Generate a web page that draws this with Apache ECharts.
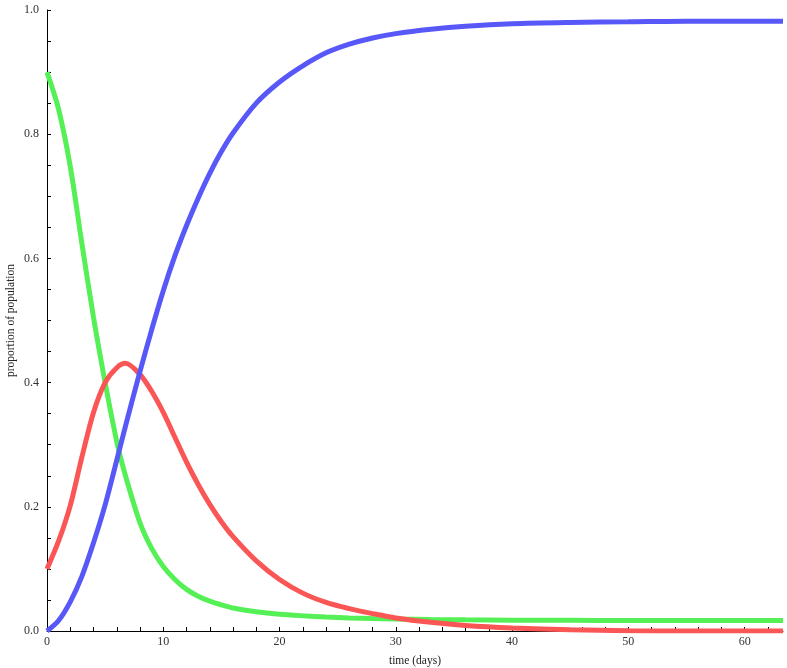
<!DOCTYPE html>
<html>
<head>
<meta charset="utf-8">
<script src="https://cdn.jsdelivr.net/npm/echarts@6/dist/echarts.min.js"></script>
<style>
html,body{margin:0;padding:0;background:#fff;}
#chart{width:787px;height:668px;}
</style>
</head>
<body>
<div id="chart"></div>
<script>
// time (days)
var days = [0,1,2,3,4,5,6,6.75,8,9,10,11,12,13,14,15,16,18,20,22,24,26,28,30,33,36,40,45,50,55,60,63.3];
// susceptible (green)
var susceptible = [0.900,0.840,0.748,0.624,0.505,0.400,0.305,0.250,0.174,0.133,0.104,0.083,0.067,0.056,0.048,0.042,0.037,0.031,0.027,0.0245,0.0225,0.021,0.020,0.0193,0.0185,0.018,0.0175,0.0172,0.017,0.017,0.017,0.017];
// infected (red)
var infected = [0.100,0.145,0.202,0.280,0.352,0.400,0.424,0.431,0.413,0.386,0.352,0.312,0.272,0.236,0.204,0.176,0.152,0.113,0.083,0.061,0.046,0.036,0.028,0.021,0.014,0.009,0.005,0.002,0.0005,0.0,0.0,0.0];
// recovered (blue)
var recovered = [0.000,0.017,0.047,0.088,0.142,0.203,0.275,0.330,0.418,0.485,0.548,0.604,0.653,0.697,0.737,0.772,0.802,0.850,0.884,0.910,0.931,0.945,0.955,0.962,0.969,0.974,0.978,0.980,0.981,0.982,0.982,0.982];

var xTickValues = [0,2,4,6,8,10,12,14,16,18,20,22,24,26,28,30,32,34,36,38,40,42,44,46,48,50,52,54,56,58,60,62];
var xLabelValues = [0,10,20,30,40,50,60];
var yTickValues = [0,0.05,0.1,0.15,0.2,0.25,0.3,0.35,0.4,0.45,0.5,0.55,0.6,0.65,0.7,0.75,0.8,0.85,0.9,0.95,1.0];
var yLabelValues = [0,0.2,0.4,0.6,0.8,1.0];

function pairs(ys){ return days.map(function(t,i){ return [t, ys[i]]; }); }

var font = '"Liberation Serif", "DejaVu Serif", serif';
var chart = echarts.init(document.getElementById('chart'), null, {renderer:'canvas'});
chart.setOption({
  animation:false,
  backgroundColor:'#ffffff',
  grid:{left:47, right:4, top:10, bottom:37, outerBoundsMode:'none', containLabel:false},
  xAxis:{
    type:'value', min:0, max:63.3,
    name:'time (days)', nameLocation:'middle', nameGap:24, nameMoveOverlap:false,
    nameTextStyle:{fontFamily:font, fontSize:11.5, color:'#222'},
    axisLine:{show:true, onZero:false, lineStyle:{color:'#000', width:1}},
    axisTick:{show:true, inside:true, length:4, customValues:xTickValues, lineStyle:{color:'#000', width:1}},
    axisLabel:{show:true, customValues:xLabelValues, margin:5, fontFamily:font, fontSize:12, color:'#333'},
    splitLine:{show:false}
  },
  yAxis:{
    type:'value', min:0, max:1,
    name:'proportion of population', nameLocation:'middle', nameGap:30, nameRotate:90, nameMoveOverlap:false,
    nameTextStyle:{fontFamily:font, fontSize:11.5, color:'#222'},
    axisLine:{show:true, onZero:false, lineStyle:{color:'#000', width:1}},
    axisTick:{show:true, inside:true, length:4, customValues:yTickValues, lineStyle:{color:'#000', width:1}},
    axisLabel:{show:true, customValues:yLabelValues, margin:8, fontFamily:font, fontSize:12, color:'#333',
      formatter:function(v){ return v.toFixed(1); }},
    splitLine:{show:false}
  },
  series:[
    {type:'line', name:'S', data:pairs(susceptible), showSymbol:false, smooth:0.3, clip:true,
     lineStyle:{color:'#55f055', width:5}, itemStyle:{color:'#55f055'}},
    {type:'line', name:'I', data:pairs(infected), showSymbol:false, smooth:0.3, clip:true,
     lineStyle:{color:'#fa5656', width:5}, itemStyle:{color:'#fa5656'}},
    {type:'line', name:'R', data:pairs(recovered), showSymbol:false, smooth:0.3, clip:true,
     lineStyle:{color:'#5858f8', width:5}, itemStyle:{color:'#5858f8'}}
  ]
});
</script>
</body>
</html>
